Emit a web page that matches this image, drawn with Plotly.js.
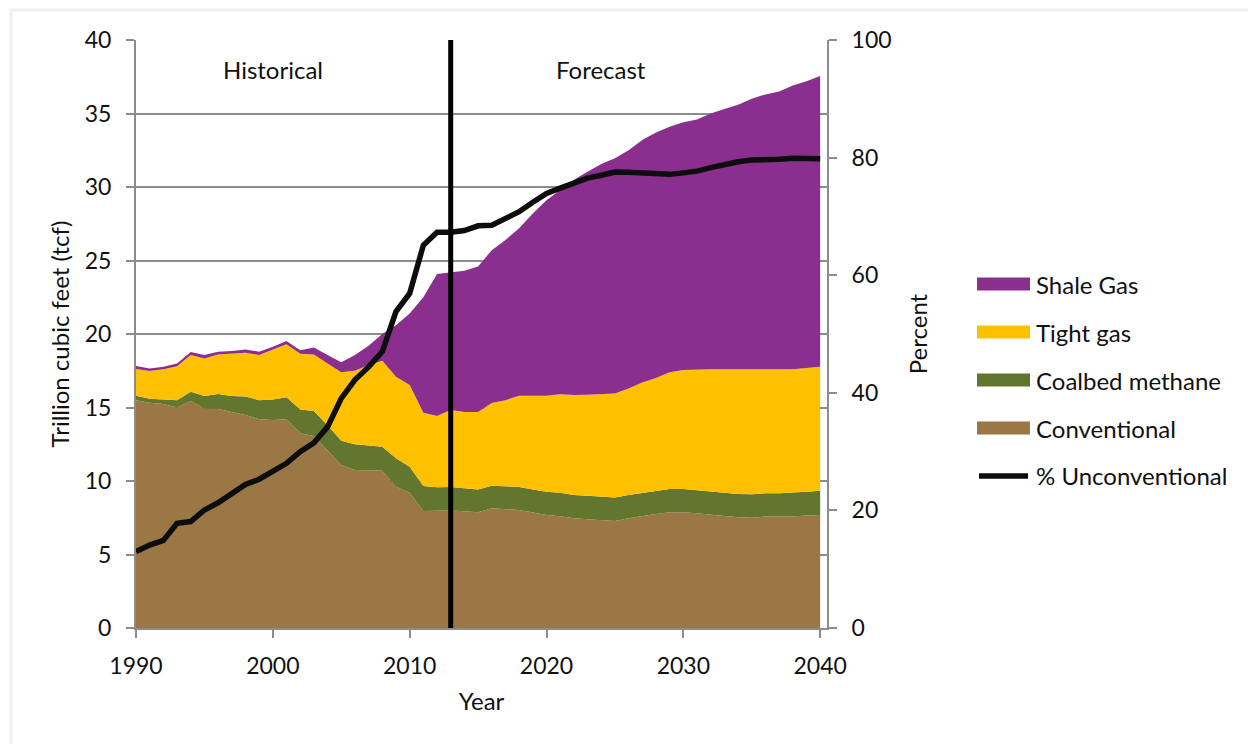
<!DOCTYPE html>
<html>
<head>
<meta charset="utf-8">
<script src="https://cdn.plot.ly/plotly-3.0.1.min.js"></script>
<style>
  html, body { margin: 0; padding: 0; background: #ffffff; }
  #chart { width: 1248px; height: 744px; }
</style>
</head>
<body>
<div id="chart"></div>
<script>
// ---- Data ----
const years = [];
for (let y = 1990; y <= 2040; y++) years.push(y);

const conventional = [15.5, 15.33, 15.24, 15.0, 15.44, 14.94, 14.9, 14.7, 14.49, 14.2,
  14.15, 14.2, 13.24, 13.06, 12.1, 11.09, 10.75, 10.7, 10.7, 9.61,
  9.2, 7.96, 7.98, 8.0, 7.95, 7.87, 8.14, 8.1, 8.03, 7.85,
  7.69, 7.6, 7.46, 7.4, 7.35, 7.28, 7.46, 7.62, 7.76, 7.87,
  7.87, 7.8, 7.69, 7.62, 7.53, 7.5, 7.58, 7.58, 7.58, 7.65, 7.69];

const coalbed = [0.3, 0.27, 0.31, 0.5, 0.63, 0.84, 1.02, 1.08, 1.26, 1.3,
  1.4, 1.49, 1.63, 1.7, 1.7, 1.65, 1.75, 1.7, 1.63, 1.93,
  1.77, 1.7, 1.59, 1.6, 1.55, 1.56, 1.54, 1.55, 1.57, 1.58,
  1.58, 1.6, 1.59, 1.6, 1.58, 1.59, 1.59, 1.58, 1.58, 1.59,
  1.59, 1.58, 1.58, 1.58, 1.59, 1.6, 1.58, 1.58, 1.62, 1.62, 1.65];

const tight = [1.82, 1.88, 2.05, 2.3, 2.5, 2.56, 2.68, 2.88, 2.98, 3.07,
  3.4, 3.61, 3.79, 3.84, 4.2, 4.65, 5.0, 5.49, 5.85, 5.56,
  5.56, 4.99, 4.85, 5.23, 5.2, 5.27, 5.62, 5.85, 6.2, 6.37,
  6.53, 6.7, 6.8, 6.87, 6.97, 7.09, 7.25, 7.5, 7.66, 7.94,
  8.09, 8.22, 8.33, 8.4, 8.48, 8.5, 8.39, 8.39, 8.4, 8.42, 8.44];

const shale = [0.2, 0.18, 0.17, 0.2, 0.2, 0.23, 0.2, 0.18, 0.22, 0.23,
  0.19, 0.22, 0.24, 0.49, 0.57, 0.68, 1.07, 1.31, 1.82, 3.5,
  4.87, 7.85, 9.66, 9.34, 9.6, 9.9, 10.4, 10.9, 11.4, 12.4,
  13.3, 13.9, 14.65, 15.17, 15.66, 15.99, 16.2, 16.5, 16.7, 16.7,
  16.85, 17.0, 17.4, 17.7, 18.0, 18.4, 18.75, 18.95, 19.3, 19.51, 19.77];

const pctUnconventional = [13.0, 14.1, 14.9, 17.8, 18.1, 20.07, 21.3, 22.9, 24.4, 25.3,
  26.75, 28.0, 30.0, 31.5, 34.2, 39.06, 42.2, 44.4, 47.0, 53.8,
  56.9, 65.1, 67.3, 67.3, 67.6, 68.4, 68.5, 69.6, 70.8, 72.4,
  73.9, 74.8, 75.7, 76.5, 77.0, 77.55, 77.5, 77.4, 77.4, 77.15,
  77.4, 77.7, 78.3, 78.9, 79.3, 79.6, 79.6, 79.7, 79.9, 79.8, 79.8];

const seriesNames = ["Shale Gas", "Tight gas", "Coalbed methane", "Conventional", "% Unconventional"];
const leftTicks = [0, 5, 10, 15, 20, 25, 30, 35, 40];
const rightTicks = [0, 20, 40, 60, 80, 100];
const xTicks = [1990, 2000, 2010, 2020, 2030, 2040];
const forecastStart = 2013;
const periodLabels = ["Historical", "Forecast"];
const periodLabelYears = [2000, 2024];

// ---- Styling ----
const colors = {
  "Shale Gas": "#8B2F8F",
  "Tight gas": "#FFC000",
  "Coalbed methane": "#62762D",
  "Conventional": "#9C7746",
  "% Unconventional": "#0d0d0d"
};
const FONT = "Lato, 'Open Sans', sans-serif";
const FS = 23;     // tick labels
const TS = 24;     // titles, legend, annotations
const GRID = "#8c8c8c";

// plot-area pixel box
const L = 136, R = 827, T = 40, B = 628;
const W = R - L, H = B - T;
const px = x => (x - L) / W;
const py = y => (B - y) / H;

function area(name, vals) {
  return {
    x: years, y: vals, name: name, type: "scatter", mode: "lines",
    stackgroup: "gas", line: { width: 0 }, fillcolor: colors[name],
    showlegend: false, hoverinfo: "x+y+name"
  };
}

const traces = [
  area("Conventional", conventional),
  area("Coalbed methane", coalbed),
  area("Tight gas", tight),
  area("Shale Gas", shale),
  {
    x: years, y: pctUnconventional, name: "% Unconventional", type: "scatter",
    mode: "lines", yaxis: "y2", line: { color: colors["% Unconventional"], width: 5.5 },
    showlegend: false
  }
];

// ---- Shapes: vertical divider, outer frame, manual legend ----
const shapes = [
  { type: "line", xref: "x", yref: "paper", x0: forecastStart, x1: forecastStart, y0: 0, y1: 1,
    line: { color: "#000000", width: 5 } },
  { type: "rect", xref: "paper", yref: "paper", x0: px(11), x1: px(1262), y0: py(760), y1: py(10),
    line: { color: "#efefef", width: 3 }, fillcolor: "rgba(0,0,0,0)", layer: "below" }
];
const annotations = [];

periodLabels.forEach((t, i) => {
  annotations.push({
    text: t, xref: "x", yref: "paper", x: periodLabelYears[i], y: py(70),
    showarrow: false, xanchor: "center", yanchor: "middle",
    font: { family: FONT, size: TS, color: "#111" }
  });
});

seriesNames.forEach((name, i) => {
  const cy = 284 + 48 * i;
  if (name === "% Unconventional") {
    shapes.push({ type: "line", xref: "paper", yref: "paper",
      x0: px(979), x1: px(1028), y0: py(cy), y1: py(cy),
      line: { color: colors[name], width: 5.5 } });
  } else {
    shapes.push({ type: "rect", xref: "paper", yref: "paper",
      x0: px(977), x1: px(1030), y0: py(cy + 6.5), y1: py(cy - 6.5),
      line: { width: 0 }, fillcolor: colors[name] });
  }
  annotations.push({
    text: name, xref: "paper", yref: "paper", x: px(1034), y: py(cy),
    showarrow: false, xanchor: "left", yanchor: "middle",
    font: { family: FONT, size: TS, color: "#111" }
  });
});

const layout = {
  width: 1248, height: 744,
  margin: { l: L, r: 1248 - R, t: T, b: 744 - B, pad: 0 },
  paper_bgcolor: "#ffffff", plot_bgcolor: "#ffffff",
  font: { family: FONT, size: FS, color: "#111" },
  showlegend: false,
  xaxis: {
    range: [1990, 2040.5], tickvals: xTicks, ticktext: xTicks.map(String),
    ticks: "outside", ticklen: 8, tickwidth: 2, tickcolor: GRID,
    showline: true, linecolor: GRID, linewidth: 2, showgrid: false, zeroline: false,
    ticklabelstandoff: 8,
    title: { text: "Year", font: { family: FONT, size: TS, color: "#111" }, standoff: 16 },
    fixedrange: true
  },
  yaxis: {
    range: [0, 40], tickvals: leftTicks, ticktext: leftTicks.map(String),
    ticks: "outside", ticklen: 8, tickwidth: 2, tickcolor: GRID,
    showline: true, linecolor: GRID, linewidth: 2,
    showgrid: true, gridcolor: GRID, gridwidth: 2, zeroline: false,
    ticklabelstandoff: 10,
    title: { text: "Trillion cubic feet (tcf)", font: { family: FONT, size: TS, color: "#111" }, standoff: 8 },
    fixedrange: true
  },
  yaxis2: {
    range: [0, 100], tickvals: rightTicks, ticktext: rightTicks.map(String),
    overlaying: "y", side: "right",
    ticks: "outside", ticklen: 8, tickwidth: 2, tickcolor: GRID,
    showline: true, linecolor: GRID, linewidth: 2, showgrid: false, zeroline: false,
    ticklabelstandoff: 10,
    title: { text: "Percent", font: { family: FONT, size: TS, color: "#111" }, standoff: 20 },
    fixedrange: true
  },
  shapes: shapes,
  annotations: annotations
};

Plotly.newPlot("chart", traces, layout, { displayModeBar: false, staticPlot: true });
</script>
</body>
</html>
